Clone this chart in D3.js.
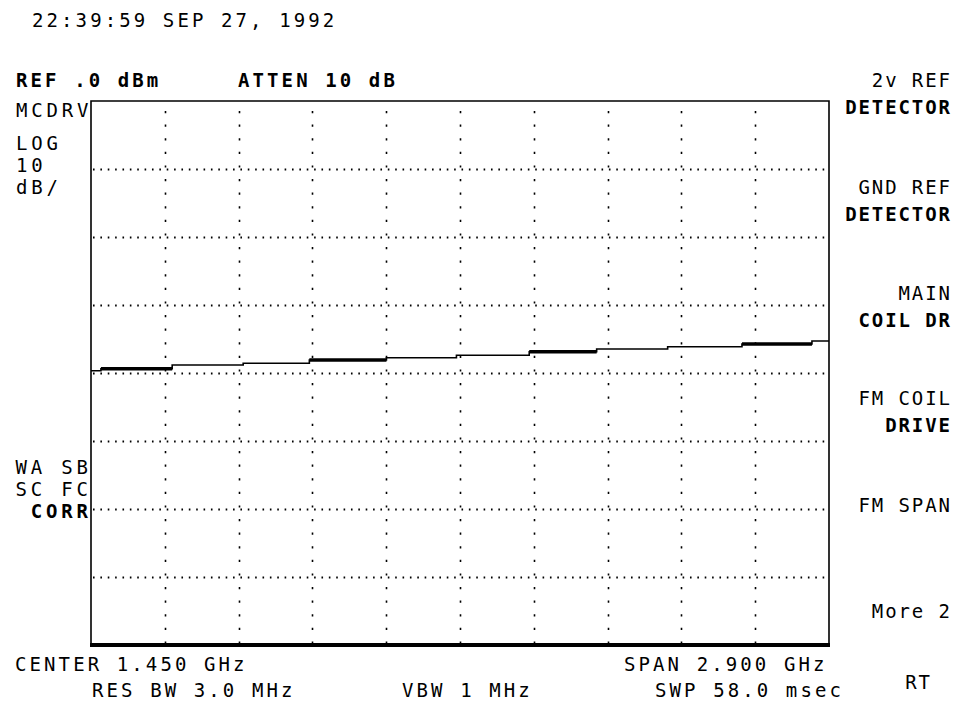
<!DOCTYPE html>
<html>
<head>
<meta charset="utf-8">
<script src="https://cdn.jsdelivr.net/npm/d3@7"></script>
<style>
  body { margin: 0; background: #fff; }
  svg text { font-family: "DejaVu Sans Mono", "Liberation Mono", monospace; font-size: 19px; fill: #000; }
</style>
</head>
<body>
<div id="chart"></div>
<script>
// ---------------- data ----------------
var stepStartGHz = [0, 0.039, 0.319, 0.598, 0.858, 1.161, 1.436, 1.722, 1.987, 2.266, 2.558, 2.833];
var stepLevelDbm = [-39.66, -39.37, -38.82, -38.57, -38.09, -37.75, -37.40, -36.88, -36.47, -36.13, -35.74, -35.29];
var spanGHz = [0, 2.9];
var refLevelDbm = [-80, 0];          // REF .0 dBm, 10 dB/div, 8 div
var xDivs = 10, yDivs = 8;

var headerText = ["22:39:59 SEP 27, 1992"];
var leftTop = ["MCDRV", "LOG", "10", "dB/"];
var leftBottom = ["WA SB", "SC FC", "CORR"];
var softkeys = [["2v REF", "DETECTOR"], ["GND REF", "DETECTOR"], ["MAIN", "COIL DR"],
                ["FM COIL", "DRIVE"], ["FM SPAN"], ["More 2"], ["RT"]];

var width = 963, height = 702;
var box = { left: 91, right: 829, top: 101, bottom: 645 };

var svg = d3.select("#chart").append("svg")
  .attr("width", width)
  .attr("height", height);

var x = d3.scaleLinear().domain(spanGHz).range([box.left, box.right]);
var y = d3.scaleLinear().domain(refLevelDbm).range([box.bottom, box.top]);

///////////////////// grid /////////////////////
var xTicks = d3.range(1, xDivs).map(function(i) { return spanGHz[0] + i * (spanGHz[1] - spanGHz[0]) / xDivs; });
var yTicks = d3.range(1, yDivs).map(function(i) { return refLevelDbm[0] + i * 10; });

svg.append("g").selectAll("line")
  .data(yTicks)
  .enter().append("line")
    .attr("x1", box.left + 2).attr("x2", box.right - 2)
    .attr("y1", function(d) { return Math.round(y(d)) + 0.5; })
    .attr("y2", function(d) { return Math.round(y(d)) + 0.5; })
    .attr("stroke", "#000")
    .attr("stroke-width", 2)
    .attr("stroke-dasharray", "1.6,5.77");

svg.append("g").selectAll("line")
  .data(xTicks)
  .enter().append("line")
    .attr("x1", function(d) { return Math.round(x(d)) + 0.5; })
    .attr("x2", function(d) { return Math.round(x(d)) + 0.5; })
    .attr("y1", box.top + 10).attr("y2", box.bottom)
    .attr("stroke", "#000")
    .attr("stroke-width", 1.6)
    .attr("stroke-dasharray", "2.2,11.4");

///////////////////// frame /////////////////////
svg.append("path")
  .attr("d", "M" + box.left + "," + box.bottom + "V" + box.top + "H" + box.right + "V" + box.bottom)
  .attr("fill", "none")
  .attr("stroke", "#000")
  .attr("stroke-width", 1.6);
svg.append("line")
  .attr("x1", box.left - 1).attr("x2", box.right + 1)
  .attr("y1", box.bottom).attr("y2", box.bottom)
  .attr("stroke", "#000")
  .attr("stroke-width", 4);

///////////////////// trace /////////////////////
var steps = stepStartGHz.map(function(f, i) {
  return { f0: f, f1: i < stepStartGHz.length - 1 ? stepStartGHz[i + 1] : spanGHz[1], level: stepLevelDbm[i], i: i };
});

var stepLine = d3.line()
  .x(function(d) { return x(d[0]); })
  .y(function(d) { return y(d[1]); })
  .curve(d3.curveStepAfter);

var pts = steps.map(function(s) { return [s.f0, s.level]; });
pts.push([spanGHz[1], stepLevelDbm[stepLevelDbm.length - 1]]);

svg.append("path")
  .attr("d", stepLine(pts))
  .attr("fill", "none")
  .attr("stroke", "#000")
  .attr("stroke-width", 1.6);

// every third sweep segment is drawn heavier on the plot
svg.append("g").selectAll("line")
  .data(steps.filter(function(s) { return s.i % 3 == 1; }))
  .enter().append("line")
    .attr("x1", function(d) { return x(d.f0); })
    .attr("x2", function(d) { return x(d.f1); })
    .attr("y1", function(d) { return y(d.level); })
    .attr("y2", function(d) { return y(d.level); })
    .attr("stroke", "#000")
    .attr("stroke-width", 3.6);

///////////////////// annotation text /////////////////////
function label(str, px, py, opts) {
  opts = opts || {};
  var ls = opts.ls == null ? 3.1 : opts.ls;
  var t = svg.append("text")
    .attr("x", opts.end ? px + ls : px)
    .attr("y", py)
    .style("letter-spacing", ls + "px")
    .attr("text-anchor", opts.end ? "end" : "start")
    .text(str);
  if (opts.bold) t.style("font-weight", "bold");
  return t;
}

label(headerText[0], 32, 27);
label("REF .0 dBm", 16, 87, { bold: true });
label("ATTEN 10 dB", 238, 87, { bold: true });

var leftTopY = [117, 150, 172, 194];
leftTop.forEach(function(s, i) {
  label(s, 16, leftTopY[i], { ls: 3.8 });
});
var leftBottomY = [474, 496, 518];
leftBottom.forEach(function(s, i) {
  label(s, 88, leftBottomY[i], { end: true, bold: s == "CORR", ls: 3.8 });
});

var keyY = [[87, 114], [194, 221], [300, 327], [405, 432], [512], [618], [689]];
softkeys.forEach(function(k, i) {
  k.forEach(function(s, j) {
    var bold = j == 1;
    var xr = s == "RT" ? 930 : 950;
    label(s, xr, keyY[i][j], { end: true, bold: bold, ls: 1.9 });
  });
});

label("CENTER 1.450 GHz", 15, 671);
label("SPAN 2.900 GHz", 624, 671);
label("RES BW 3.0 MHz", 92, 697);
label("VBW 1 MHz", 402, 697);
label("SWP 58.0 msec", 655, 697);
</script>
</body>
</html>
